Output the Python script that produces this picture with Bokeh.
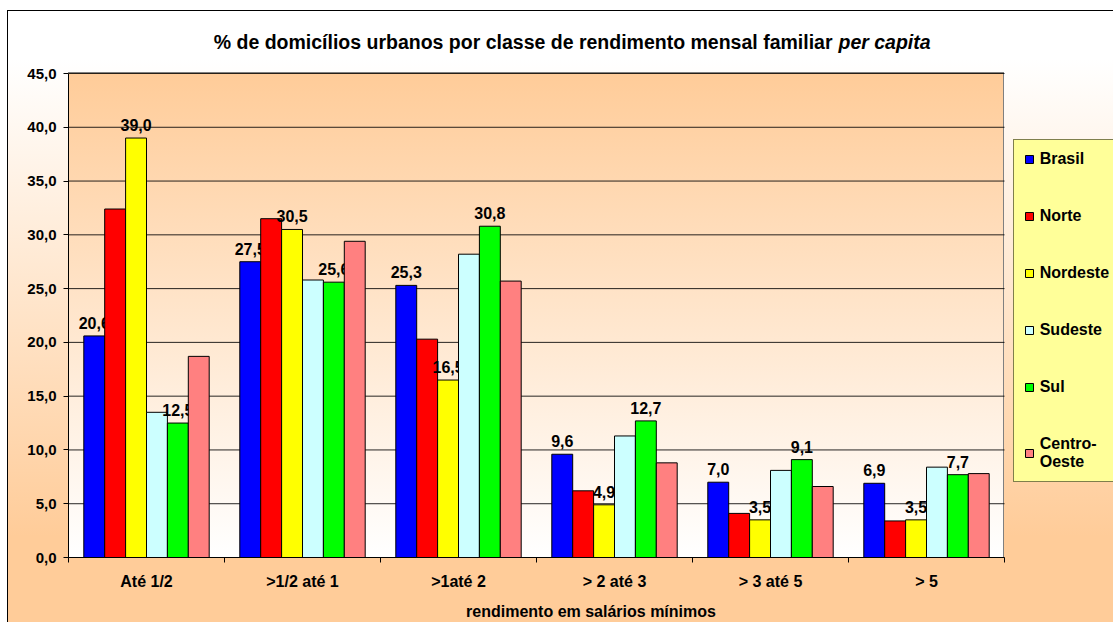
import numpy as np
from bokeh.plotting import figure
from bokeh.models import (ColumnDataSource, FixedTicker, CustomJSTickFormatter,
                          Legend, LegendItem, Label, Range1d)
from bokeh.core.properties import value
from bokeh.embed import file_html
from bokeh.resources import INLINE

# ---------------- data ----------------
categories = ["Até 1/2", ">1/2 até 1", ">1até 2", "> 2 até 3", "> 3 até 5", "> 5"]
series_names = ["Brasil", "Norte", "Nordeste", "Sudeste", "Sul", "Centro-\nOeste"]
brasil = [20.6, 27.5, 25.3, 9.6, 7.0, 6.9]
norte = [32.4, 31.5, 20.3, 6.2, 4.1, 3.4]
nordeste = [39.0, 30.5, 16.5, 4.9, 3.5, 3.5]
sudeste = [13.5, 25.8, 28.2, 11.3, 8.1, 8.4]
sul = [12.5, 25.6, 30.8, 12.7, 9.1, 7.7]
centro_oeste = [18.7, 29.4, 25.7, 8.8, 6.6, 7.8]
series_colors = ["#0000FF", "#FF0000", "#FFFF00", "#CCFFFF", "#00FF00", "#FF8080"]
labeled_series = ["Brasil", "Nordeste", "Sul"]
y_ticks = [0, 5, 10, 15, 20, 25, 30, 35, 40, 45]
title_main = "% de domicílios urbanos por classe de rendimento mensal familiar"
title_italic = "per capita"
x_title = "rendimento em salários mínimos"

all_series = [brasil, norte, nordeste, sudeste, sul, centro_oeste]

# ---------------- layout (pixels in the page) ----------------
FONT = "Liberation Sans"
W, H = 1113, 622
PA_L, PA_T, PA_R, PA_B = 68, 73, 1004, 557      # plot area
BOTTOM = H - PA_B                               # bottom axis panel
n_cat = len(categories)
Y_MAX = y_ticks[-1]
ppu = (PA_B - PA_T) / Y_MAX                     # px per y unit
ppc = (PA_R - PA_L) / n_cat                     # px per category
x_end = (W - PA_L) / ppc
y_end = PA_B / ppu


def dx(px):   # page x -> data x
    return (px - PA_L) / ppc


def dy(py):   # page y -> data y
    return (PA_B - py) / ppu


p = figure(width=W, height=H, title=None,
           x_range=Range1d(0, x_end), y_range=Range1d(0, y_end),
           output_backend="svg", toolbar_location=None, tools="",
           min_border_left=PA_L, min_border_right=0,
           min_border_top=0, min_border_bottom=BOTTOM)

p.background_fill_alpha = 0
p.border_fill_alpha = 0
p.outline_line_color = None
p.grid.visible = False

PW, PH = PA_R - PA_L, PA_B - PA_T
p.styles = {
    "background": ", ".join([
        f"linear-gradient(#808080, #808080) {PA_L}px {PA_T - 1}px / {PW}px 1px no-repeat",
        f"linear-gradient(#808080, #808080) {PA_R - 1}px {PA_T - 1}px / 1px {PH + 1}px no-repeat",
        f"linear-gradient(to bottom, #FFCC99, #FFFFFF) {PA_L}px {PA_T}px / {PW}px {PH}px no-repeat",
        "linear-gradient(#000000, #000000) 7px 10px / 1px 612px no-repeat",
        "linear-gradient(#000000, #000000) 7px 10px / 1106px 1px no-repeat",
        "linear-gradient(to bottom, #FFFFFF 0%, #FFFFFF 8%, #FFCC99 86%, #FFCC99 100%) 7px 10px / 1106px 612px no-repeat",
        "#FFFFFF",
    ]),
}

# ---------------- grid lines (from the y ticks) ----------------
p.segment(x0=[0] * len(y_ticks), x1=[n_cat] * len(y_ticks), y0=y_ticks, y1=y_ticks,
          line_color="black", line_alpha=0.85, line_width=1)

# ---------------- bars ----------------
bar_w = 20.9 / ppc
n = len(all_series)
items = []
for i, (name, vals, color) in enumerate(zip(series_names, all_series, series_colors)):
    xs = [k + 0.5 + (i - (n - 1) / 2) * bar_w for k in range(n_cat)]
    src = ColumnDataSource(dict(x=xs, top=vals,
                                label=[f"{v:.1f}".replace(".", ",") for v in vals]))
    r = p.vbar(x="x", top="top", width=bar_w, source=src,
               fill_color=color, line_color="black", line_width=1)
    items.append(LegendItem(label=name, renderers=[r]))
    if name in labeled_series:
        p.text(x="x", y="top", text="label", source=src, y_offset=-13,
               text_align="center", text_baseline="alphabetic",
               text_font=value(FONT), text_font_style="bold",
               text_font_size="16px", text_color="black")

# ---------------- axes ----------------
p.yaxis.bounds = (0, Y_MAX)
p.yaxis.ticker = FixedTicker(ticks=y_ticks)
p.yaxis.formatter = CustomJSTickFormatter(code="return tick.toFixed(1).replace('.', ',');")
p.yaxis.major_tick_out = 5
p.yaxis.major_tick_in = 0
p.yaxis.minor_tick_out = 0
p.yaxis.minor_tick_in = 0
p.yaxis.major_label_standoff = 7
p.yaxis.major_label_text_font = FONT
p.yaxis.major_label_text_font_style = "bold"
p.yaxis.major_label_text_font_size = "15px"
p.yaxis.major_label_text_color = "black"
p.yaxis.axis_line_color = "black"

p.xaxis.bounds = (0, n_cat)
p.xaxis.ticker = FixedTicker(ticks=[k + 0.5 for k in range(n_cat)],
                             minor_ticks=list(range(n_cat + 1)))
p.xaxis.formatter = CustomJSTickFormatter(
    args=dict(cats=categories),
    code="const i = Math.floor(tick); return (i >= 0 && i < cats.length) ? cats[i] : '';")
p.xaxis.major_tick_out = 0
p.xaxis.major_tick_in = 0
p.xaxis.minor_tick_out = 5
p.xaxis.minor_tick_in = 0
p.xaxis.minor_tick_line_color = "black"
p.xaxis.major_label_standoff = 10
p.xaxis.major_label_text_font = FONT
p.xaxis.major_label_text_font_style = "bold"
p.xaxis.major_label_text_font_size = "16px"
p.xaxis.major_label_text_color = "black"
p.xaxis.axis_line_color = "black"
p.xaxis.axis_label = x_title
p.xaxis.axis_label_standoff = 10
p.xaxis.axis_label_text_font = FONT
p.xaxis.axis_label_text_font_style = "bold"
p.xaxis.axis_label_text_font_size = "16px"
p.xaxis.axis_label_text_color = "black"

# ---------------- title ----------------
p.add_layout(Label(x=dx(832), y=dy(41), text=title_main,
                   text_align="right", text_baseline="middle",
                   text_font=FONT, text_font_style="bold",
                   text_font_size="19.5px", text_color="black"))
p.add_layout(Label(x=dx(838), y=dy(41), text=title_italic,
                   text_align="left", text_baseline="middle",
                   text_font=FONT, text_font_style="bold italic",
                   text_font_size="19.5px", text_color="black"))

# ---------------- legend ----------------
legend = Legend(items=items, location=(1012.7 - PA_L, PA_B - 481.7),
                orientation="vertical",
                background_fill_color="#FFFF99", background_fill_alpha=1,
                border_line_color="black", border_line_width=1,
                label_text_font=FONT, label_text_font_style="bold",
                label_text_font_size="16px", label_text_color="black",
                label_text_line_height=1.35,
                glyph_width=10, glyph_height=10, label_height=19,
                label_standoff=6, spacing=38, padding=10, margin=0)
p.add_layout(legend)

open("out.html", "w").write(file_html(p, INLINE))
